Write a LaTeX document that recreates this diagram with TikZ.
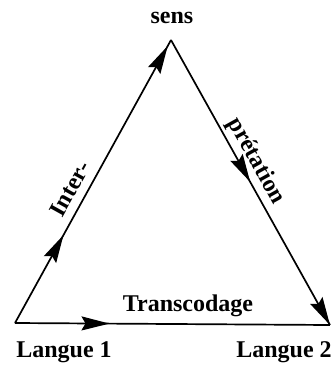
\documentclass[tikz,border=0pt]{standalone}
\usepackage{fontspec}
\setmainfont{Liberation Serif}
\usetikzlibrary{arrows.meta,decorations.markings}
\tikzset{
  mytip/.tip={Stealth[length=28pt,width=14pt,inset=4pt]},
}
\begin{document}
\begin{tikzpicture}[x=1pt,y=-1pt,
  lbl/.style={font=\fontsize{24}{26}\selectfont\bfseries, inner sep=0pt},
  edge/.style={line width=1.7pt},
  twoarrows/.style 2 args={postaction={decorate},decoration={markings,
     mark=at position #1 with {\arrow{mytip}},
     mark=at position #2 with {\arrow{mytip}}}},
  onearrow/.style={postaction={decorate},decoration={markings,
     mark=at position #1 with {\arrow{mytip}}}}
]
\useasboundingbox (0,0) rectangle (333,368);
\coordinate (A) at (15,323);
\coordinate (B) at (171,40);
\coordinate (C) at (330,325);
\node[lbl] (sens) at (172,18) {sens};
\node[lbl] (l1) at (64,352) {Langue 1};
\node[lbl] (l2) at (284,352) {Langue 2};
\draw[edge, twoarrows={0.311}{0.979}] (A) -- (B);
\draw[edge, twoarrows={0.498}{1}] (B) -- (C);
\draw[edge, onearrow=0.30] (A) -- (C);
\node[lbl, rotate=61] (inter) at (70,189) {Inter-};
\node[lbl, rotate=-61] (pret) at (256,161) {prétation};
\node[lbl] (trans) at (188,306) {Transcodage};
\end{tikzpicture}
\end{document}
